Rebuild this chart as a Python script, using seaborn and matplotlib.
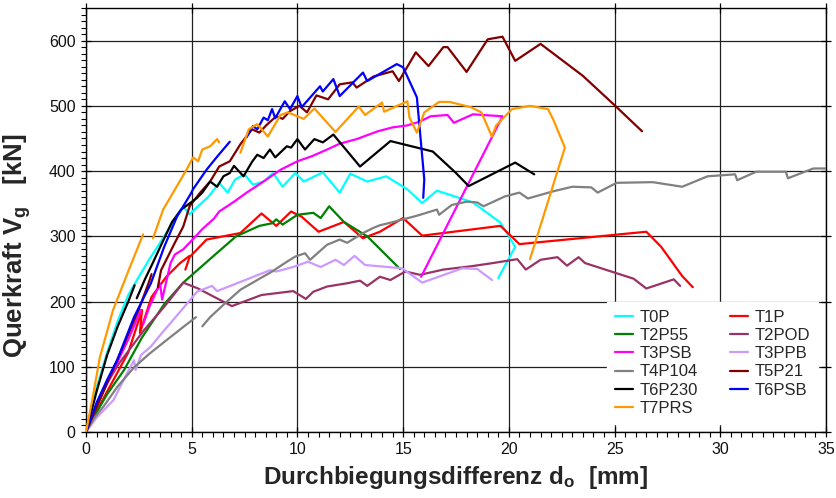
import numpy as np
import pandas as pd
import matplotlib
matplotlib.use("Agg")
import matplotlib.pyplot as plt
import seaborn as sns
from matplotlib.ticker import MultipleLocator

# Load-deflection curves: deflection difference d_o [mm] vs. shear force V_g [kN]
# None marks a break in the recorded curve.
series_names = ["T0P", "T1P", "T2P55", "T2POD", "T3PSB", "T3PPB",
                "T4P104", "T5P21", "T6P230", "T6PSB", "T7PRS"]

t0p_d = [0, 0.5, 1.0, 1.5, 2.0, 2.5, 3.0, 3.5, 4.0, 4.6, 4.9, 5.8, 6.3, 6.7, 7.05, 7.5, 7.9, 8.4,
         8.85, 9.3, 9.9, 10.3, 11.2, 12.0, 12.5, 13.3, 14.2, 15.2, 15.9, 16.6, 18.3, 19.6, 20.3, 19.5]
t0p_v = [0, 68, 122, 170, 210, 238, 265, 290, 315, 345, 334, 361, 382, 367, 387, 395, 379, 384,
         397, 376, 397, 384, 398, 367, 396, 384, 392, 372, 351, 370, 352, 321, 284, 236]

t1p_d = [0, 0.5, 1.0, 1.5, 2.0, 2.65, 2.55, 3.1, 3.8, 4.45, 4.9, None,
         4.7, 4.9, 5.7, 7.3, 8.3, 9.0, 9.7, 10.2, 11.0, 12.2, 13.1, 13.9, 15.0, 15.9,
         19.6, 20.5, 26.5, 27.2, 28.2, 28.7]
t1p_v = [0, 32, 62, 92, 122, 187, 152, 207, 238, 259, 270, None,
         249, 268, 295, 305, 335, 316, 338, 330, 307, 322, 297, 307, 328, 301,
         316, 288, 307, 284, 239, 222]

t2p55_d = [0, 0.5, 1.0, 1.8, 2.65, 3.7, 4.6, 6.0, 7.1, 8.2, 8.8, 9.0, 9.3, 10.0, 10.75,
           11.1, 11.5, 12.2, 13.3, 14.85]
t2p55_v = [0, 30, 58, 95, 145, 196, 229, 269, 300, 316, 320, 326, 318, 333, 336,
           328, 346, 322, 300, 250]

t2pod_d = [0, 0.5, 1.0, 1.56, 2.74, 3.7, 4.6, 5.3, 6.9, 8.3, 9.8, 10.4, 10.75, 11.4, 12.35,
           12.96, 13.3, 13.9, 14.4, 15.1, 15.8, 16.9, 18.2, 19.25, 20.4, 20.8, 21.5, 22.3,
           22.75, 23.3, 23.6, 25.9, 26.5, 27.8, 28.1]
t2pod_v = [0, 40, 75, 105, 156, 192, 229, 220, 193, 210, 216, 204, 215, 223, 228,
           232, 224, 238, 233, 246, 241, 249, 254, 259, 265, 249, 264, 268,
           255, 268, 259, 235, 220, 234, 224]

t3psb_d = [0, 0.5, 1.0, 1.5, 2.0, 2.6, None,
           2.7, 3.0, 3.5, 3.6, 4.0, 4.2, 4.6, 5.1, 5.5, 6.05, 6.3, 7.0, 7.6, 8.4, 9.2, 10.0,
           10.7, 11.4, 12.0, 12.8, 13.8, 14.5, 15.2, 15.8, 16.3, 17.1, 17.4, 18.3, 19.7, 15.85]
t3psb_v = [0, 40, 75, 108, 142, 187, None,
           165, 192, 228, 203, 259, 272, 280, 297, 311, 327, 338, 353, 367, 384, 402, 415,
           423, 433, 442, 449, 461, 467, 470, 476, 484, 486, 474, 487, 484, 238]

t3ppb_d = [0, 0.5, 1.3, 1.94, 2.27, 2.35, 2.6, 3.07, 3.7, 4.0, 4.6, 5.25, 5.96, 6.2, 8.0,
           8.7, 9.0, 9.8, 10.5, 11.1, 11.8, 12.2, 12.7, 13.2, 14.95, 15.9, 17.8, 18.5, 19.2]
t3ppb_v = [0, 22, 49, 90, 110, 95, 118, 131, 156, 167, 190, 215, 224, 216, 239,
           248, 246, 253, 261, 253, 264, 256, 270, 256, 251, 229, 251, 250, 233]

t4p104_d = [0, 0.4, 0.85, 1.5, 2.27, 3.0, 3.7, 4.6, 5.2, None,
            5.5, 5.87, 6.5, 7.3, 8.1, 8.8, 9.5, 9.9, 10.36, 10.6, 11.4, 12.0, 12.35, 13.1, 13.6,
            13.9, 14.3, 15.0, 15.7, 16.6, 16.7, 17.3, 18.0, 18.5, 18.8, 19.8, 20.5, 20.9,
            22.1, 23.0, 23.9, 24.2, 25.1, 26.8, 28.2, 29.4, 30.7, 30.8, 31.7, 33.1, 33.2,
            34.4, 35.0]
t4p104_v = [0, 22, 40, 70, 99, 120, 138, 161, 176, None,
            162, 176, 195, 218, 233, 246, 261, 269, 274, 264, 287, 295, 290, 305, 313,
            317, 320, 326, 332, 341, 333, 348, 353, 352, 346, 361, 367, 358,
            369, 376, 375, 367, 382, 383, 376, 392, 395, 386, 399, 399, 389,
            404, 404]

t5p21_d = [0, 0.5, 1.0, 1.5, 2.0, 2.5, 3.0, 3.1, None,
           3.4, 3.55, 4.2, 4.6, 4.9, 5.4, 5.87, 6.3, 6.8, 7.3, 7.85, 8.2, 8.55, 9.0, 9.3,
           9.65, 10.1, 10.45, 10.9, 11.45, 12.0, 12.6, 12.8, 13.6, 14.5, 14.8, 15.6, 16.2,
           16.9, 17.1, 18.0, 19.0, 19.7, 20.3, 21.5, 23.5, 25.0, 26.3]
t5p21_v = [0, 38, 75, 112, 150, 188, 232, 242, None,
           222, 248, 290, 315, 346, 367, 384, 407, 415, 441, 464, 459, 471, 484, 480,
           492, 500, 490, 516, 510, 533, 536, 528, 545, 553, 538, 582, 561,
           590, 590, 552, 602, 606, 569, 595, 546, 501, 461]

t6p230_d = [0, 0.5, 1.0, 1.5, 2.0, 2.3, None,
            2.4, 2.8, 3.2, 3.6, 4.07, 4.5, 4.97, 5.25, 5.5, 5.87, 6.2, 6.5, 6.8, 7.0, 7.45,
            7.85, 8.1, 8.4, 8.7, 8.95, 9.5, 9.7, 10.0, 10.36, 10.8, 11.2, 11.7, 12.96, 14.4,
            16.4, 17.5, 18.1, 20.3, 21.2]
t6p230_v = [0, 62, 118, 162, 200, 225, None,
            205, 235, 262, 290, 322, 341, 352, 359, 367, 384, 376, 392, 397, 408, 392,
            414, 425, 420, 433, 421, 438, 436, 449, 433, 449, 444, 456, 407, 446,
            430, 397, 377, 413, 395]

t6psb_d = [0, 0.5, 1.0, 1.47, 2.27, 3.07, 3.7, 4.3, 4.97, 5.06, 5.7, 6.2, 6.8, None,
           7.6, 7.9, 8.1, 8.4, 8.6, 8.8, 8.95, 9.4, 9.65, 10.0, 10.2, 11.07, 11.2, 11.7, 12.0,
           13.1, 13.3, 14.7, 15.0, 15.65, 16.0, 15.95]
t6psb_v = [0, 45, 80, 110, 176, 228, 284, 330, 366, 372, 402, 422, 445, None,
           452, 469, 464, 482, 478, 495, 481, 507, 495, 515, 498, 530, 522, 541, 515,
           551, 538, 564, 559, 513, 387, 359]

t7prs_d = [0, 0.3, 0.66, 1.28, 2.08, 2.7, None,
           3.17, 3.65, 4.3, 4.77, 5.07, 5.3, 5.5, 5.87, 6.2, 6.3, None,
           7.3, 7.7, 8.1, 8.6, 9.2, 9.55, 10.3, 10.8, 11.8, 12.9, 13.2, 14.0, 14.1, 15.2,
           15.3, 15.65, 16.0, 16.7, 17.2, 18.2, 18.7, 19.2, 19.4, 20.15, 21.0, 21.85, 22.1,
           22.65, 21.0]
t7prs_v = [0, 50, 115, 187, 253, 303, None,
           297, 341, 377, 403, 421, 415, 433, 438, 449, 444, None,
           428, 464, 472, 453, 486, 490, 480, 496, 460, 499, 486, 505, 491, 507,
           482, 459, 490, 506, 506, 498, 490, 453, 470, 495, 500, 495, 479,
           436, 265]

series_d = [t0p_d, t1p_d, t2p55_d, t2pod_d, t3psb_d, t3ppb_d,
            t4p104_d, t5p21_d, t6p230_d, t6psb_d, t7prs_d]
series_v = [t0p_v, t1p_v, t2p55_v, t2pod_v, t3psb_v, t3ppb_v,
            t4p104_v, t5p21_v, t6p230_v, t6psb_v, t7prs_v]

colors = {"T0P": "#00FFFF", "T1P": "#FF0000", "T2P55": "#008000", "T2POD": "#993366",
          "T3PSB": "#FF00FF", "T3PPB": "#CC99FF", "T4P104": "#808080", "T5P21": "#800000",
          "T6P230": "#000000", "T6PSB": "#0000FF", "T7PRS": "#FF9900"}

# legend is filled column by column
legend_order = ["T0P", "T2P55", "T3PSB", "T4P104", "T6P230", "T7PRS",
                "T1P", "T2POD", "T3PPB", "T5P21", "T6PSB"]

# long table, one unit per unbroken stretch of a curve
rows = []
seg_id = 0
for name, ds, vs in zip(series_names, series_d, series_v):
    for d, v in zip(ds, vs):
        if d is None:
            seg_id += 1
            continue
        rows.append({"name": name, "seg": seg_id, "d": d, "V": v})
    seg_id += 1
df = pd.DataFrame(rows)

sns.set_theme(style="white")
plt.rcParams["font.family"] = ["Liberation Sans", "DejaVu Sans"]
plt.rcParams["mathtext.fontset"] = "custom"
plt.rcParams["mathtext.rm"] = "Liberation Sans:bold"
plt.rcParams["mathtext.it"] = "Liberation Sans:bold"
plt.rcParams["mathtext.bf"] = "Liberation Sans:bold"

fig = plt.figure(figsize=(8.36, 4.98), dpi=100)
ax = fig.add_axes([86 / 836, 66 / 498, 740 / 836, 424 / 498])

sns.lineplot(data=df, x="d", y="V", hue="name", units="seg", estimator=None,
             sort=False, palette=colors, hue_order=series_names, linewidth=1.6,
             ax=ax, zorder=3)

ax.set_xlim(0, 35)
ax.set_ylim(0, 650)
ax.xaxis.set_major_locator(MultipleLocator(5))
ax.xaxis.set_minor_locator(MultipleLocator(0.5))
ax.yaxis.set_major_locator(MultipleLocator(100))
ax.yaxis.set_minor_locator(MultipleLocator(10))
ax.set_yticks(np.arange(0, 601, 100))

ax.grid(True, which="major", color="#202020", linewidth=0.9, zorder=1)
ax.set_axisbelow(True)
for sp in ax.spines.values():
    sp.set_color("black")
    sp.set_linewidth(1.0)

ax.tick_params(axis="both", which="major", direction="inout", length=7, width=0.9,
               color="black", labelsize=11.5, labelcolor="#111111", pad=4)
ax.tick_params(axis="both", which="minor", direction="out", length=3.5, width=0.8,
               color="black")
ax.tick_params(bottom=True, left=True, top=False, right=False, which="both")
ax.tick_params(axis="y", which="major", right=True, direction="inout")
ax.tick_params(axis="x", which="major", top=True, direction="inout")

ax.set_xlabel(r"Durchbiegungsdifferenz d$_\mathrm{o}$  [mm]", fontsize=17.5,
              fontweight="bold", labelpad=5)
ax.set_ylabel(r"Querkraft V$_\mathrm{g}$   [kN]", fontsize=18.5,
              fontweight="bold")
ax.yaxis.set_label_coords(-0.071, 0.44)

handles, labels = ax.get_legend_handles_labels()
hmap = dict(zip(labels, handles))
leg = ax.legend([hmap[n] for n in legend_order], legend_order, ncol=2,
                loc="lower right", bbox_to_anchor=(1.0, 0.0), frameon=True,
                fancybox=False, framealpha=1.0, edgecolor="white", facecolor="white",
                fontsize=12, handlelength=1.1, handletextpad=0.4, columnspacing=1.9,
                labelspacing=0.2, borderpad=0.45)
for line in leg.get_lines():
    line.set_linewidth(1.6)
leg.set_zorder(5)

fig.savefig("out.png", dpi=100)
